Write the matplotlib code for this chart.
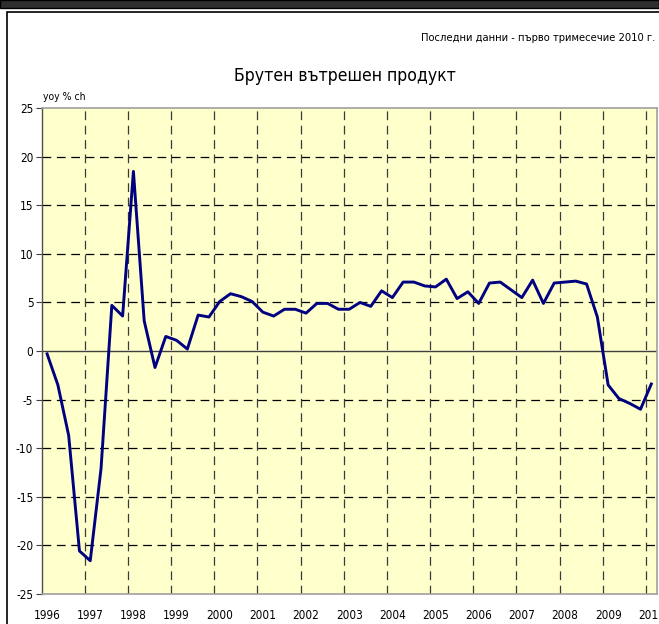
import matplotlib
matplotlib.use('Agg')
import matplotlib.pyplot as plt
from matplotlib import font_manager
from matplotlib.font_manager import FontProperties
from matplotlib.patches import Rectangle
import numpy as np

# GDP, yoy % change, quarterly 1996Q1 - 2010Q1
years = [str(y) for y in range(1996, 2011)]
gdp_yoy = [-0.3, -3.5, -8.7, -20.6, -21.6, -12.1, 4.7, 3.6, 18.5, 3.1,
           -1.7, 1.5, 1.1, 0.2, 3.7, 3.5, 5.1, 5.9, 5.6, 5.1,
           4.0, 3.6, 4.3, 4.3, 3.9, 4.9, 4.9, 4.3, 4.3, 5.0,
           4.6, 6.2, 5.5, 7.1, 7.1, 6.7, 6.6, 7.4, 5.4, 6.1,
           4.9, 7.0, 7.1, 6.3, 5.5, 7.3, 4.9, 7.0, 7.1, 7.2,
           6.9, 3.5, -3.5, -4.9, -5.4, -6.0, -3.4]
y_ticks = list(range(-25, 30, 5))

# look for a narrow font (the original uses a condensed Tahoma-like face)
narrow = None
prefs = ['liberationsansnarrow-regular', 'dejavusanscondensed.', 'notosans-condensed.',
         'opensans_condensed-regular', 'robotocondensed-regular', 'notosanscondensed']
files = [f.fname for f in font_manager.fontManager.ttflist]
for p in prefs:
    for fn in files:
        if p in fn.lower().replace(' ', ''):
            narrow = fn
            break
    if narrow:
        break
if narrow is None:
    for fn in files:
        low = fn.lower()
        if ('narrow' in low or 'condensed' in low) and not any(
                k in low for k in ('bold', 'italic', 'oblique', 'light', 'semi', 'extra', 'black', 'thin', 'medium')):
            narrow = fn
            break


def fp(size):
    if narrow:
        return FontProperties(fname=narrow, size=size)
    return FontProperties(family='Liberation Sans', size=size * 0.9)


fig = plt.figure(figsize=(6.59, 6.24), dpi=100)
W, H = 659, 624

# outer decoration: dark strip on top, frame below
fig.patches.append(Rectangle((0, 1 - 8 / H), 1, 8 / H, transform=fig.transFigure,
                             facecolor='#2e2e2e', edgecolor='black', lw=1))
fig.patches.append(Rectangle((7 / W, -0.01), 1, 1 - 12 / H + 0.01, transform=fig.transFigure,
                             facecolor='none', edgecolor='black', lw=1.2))

ax = fig.add_axes([41.7 / W, 1 - 593.7 / H, 615 / W, (593.7 - 108.3) / H])
ax.set_facecolor('#ffffcc')

x = np.arange(len(gdp_yoy))
ax.set_xlim(-0.5, len(gdp_yoy) - 0.5)
ax.set_ylim(-25, 25)

# grid
for yv in y_ticks:
    if yv not in (-25, 0, 25):
        ax.axhline(yv, color='black', lw=0.9, dashes=(7, 4.5), zorder=1)
for xv in np.arange(3.5, len(gdp_yoy) - 0.5, 4):
    ax.axvline(xv, color='#3a3a3a', lw=0.9, dashes=(7, 4.5), zorder=1)
ax.axhline(0, color='#404040', lw=1.0, zorder=2)

ax.plot(x, gdp_yoy, color='#000080', lw=2.1, zorder=3)

ax.set_yticks(y_ticks)
ax.set_yticklabels([str(v) for v in y_ticks], fontproperties=fp(8.5))
ax.set_xticks(np.arange(0, len(gdp_yoy), 4))
ax.set_xticklabels(years, fontproperties=fp(8.5))
ax.tick_params(axis='y', length=4, width=0.8, color='#404040', pad=2)
ax.tick_params(axis='x', length=0, pad=11)

for s in ['top', 'right', 'bottom']:
    ax.spines[s].set_color('#a0a0a0')
    ax.spines[s].set_linewidth(1.2)
ax.spines['left'].set_color('#505050')
ax.spines['left'].set_linewidth(1.0)

fig.text(655 / W, 1 - 38 / H, 'Последни данни - първо тримесечие 2010 г.',
         ha='right', va='center', fontproperties=fp(8.0))
fig.text(345 / W, 1 - 76 / H, 'Брутен вътрешен продукт',
         ha='center', va='center', fontproperties=fp(12.6))
fig.text(43 / W, 1 - 97 / H, 'yoy % ch', ha='left', va='center', fontproperties=fp(7.5))

fig.savefig('out.png', dpi=100)
